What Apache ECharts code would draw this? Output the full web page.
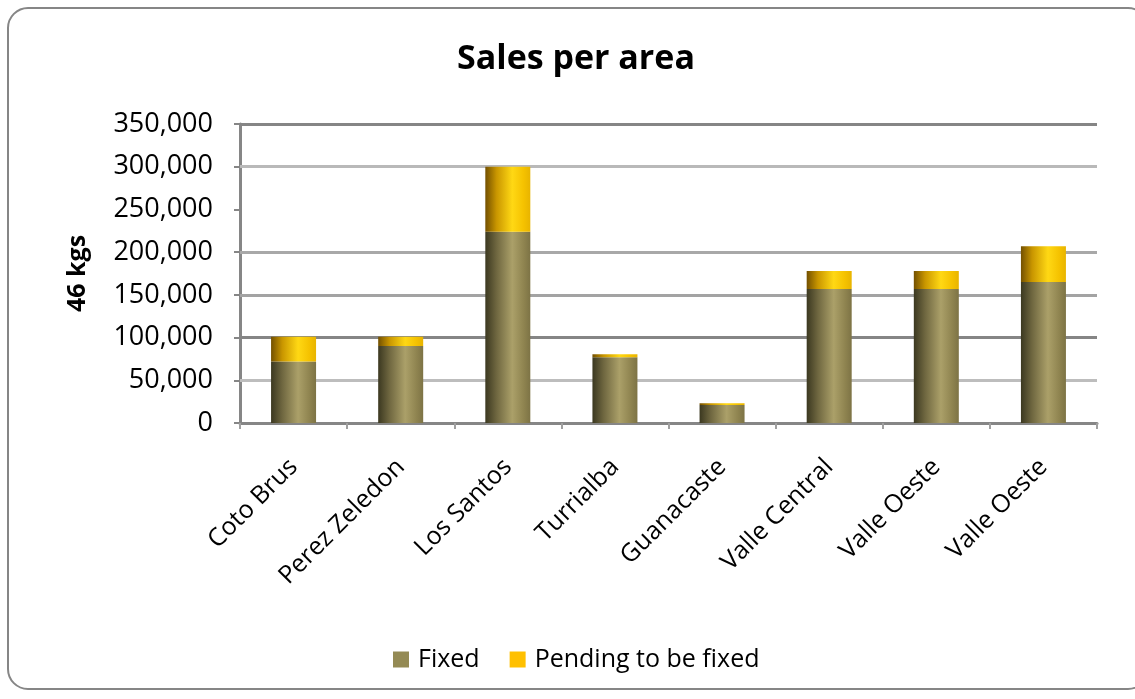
<!DOCTYPE html>
<html>
<head>
<meta charset="utf-8">
<script src="https://cdn.jsdelivr.net/npm/echarts@6/dist/echarts.min.js"></script>
<style>
html,body{margin:0;padding:0;background:#fff;}
#c{width:1135px;height:699px;}
</style>
</head>
<body>
<div id="c"></div>
<script>
var categories = ['Coto Brus', 'Perez Zeledon', 'Los Santos', 'Turrialba', 'Guanacaste', 'Valle Central', 'Valle Oeste', 'Valle Oeste'];
var fixedValues = [72000, 90000, 224000, 77000, 21000, 157000, 157000, 165000];
var pendingValues = [29000, 11000, 76000, 3500, 2000, 21000, 21000, 42000];
var yTicks = [0, 50000, 100000, 150000, 200000, 250000, 300000, 350000];
// gridlines drawn in the reference (the 250,000 line is absent there)
var gridValues = [50000, 100000, 150000, 200000, 300000, 350000];
var gridColors = ['#bdbdbd', '#858585', '#a3a3a3', '#a8a8a8', '#b9b9b9', '#858585'];

var FONT = '"Open Sans", "Liberation Sans", sans-serif';
var chart = echarts.init(document.getElementById('c'));

function grad(stops) {
  return new echarts.graphic.LinearGradient(0, 0, 1, 0, stops.map(function (s) { return { offset: s[0], color: s[1] }; }));
}

chart.setOption({
  backgroundColor: '#fff',
  animation: false,
  graphic: [{
    type: 'rect',
    shape: { x: 8, y: 8, width: 1140, height: 681, r: 20 },
    style: { fill: 'none', stroke: '#868686', lineWidth: 2 },
    silent: true
  }],
  title: {
    text: 'Sales per area',
    left: 452,
    top: 37,
    textStyle: { fontFamily: FONT, fontSize: 34, fontWeight: 'bold', color: '#000' }
  },
  legend: {
    bottom: 22,
    left: 388,
    itemWidth: 16,
    itemHeight: 16,
    itemGap: 30,
    icon: 'rect',
    textStyle: { fontFamily: FONT, fontSize: 25, color: '#000', padding: [0, 0, 0, 4] },
    data: [
      { name: 'Fixed', itemStyle: { color: '#948a54' } },
      { name: 'Pending to be fixed', itemStyle: { color: '#ffc000' } }
    ]
  },
  grid: { left: 240, right: 38, top: 124, bottom: 276 },
  xAxis: {
    type: 'category',
    data: categories,
    axisLine: { lineStyle: { color: '#868686', width: 3 } },
    axisTick: { show: true, length: 6, alignWithLabel: false, lineStyle: { color: '#a0a0a0', width: 2 } },
    axisLabel: { interval: 0, rotate: 45, margin: 40, fontFamily: FONT, fontSize: 25, color: '#000' }
  },
  yAxis: {
    type: 'value',
    min: yTicks[0],
    max: yTicks[yTicks.length - 1],
    interval: yTicks[1] - yTicks[0],
    name: '46 kgs',
    nameLocation: 'middle',
    nameRotate: 90,
    nameGap: 150,
    nameTextStyle: { fontFamily: FONT, fontSize: 25, fontWeight: 'bold', color: '#000' },
    axisLine: { show: true, lineStyle: { color: '#868686', width: 3 } },
    axisTick: { show: true, inside: false, length: 6, lineStyle: { color: '#868686', width: 2 } },
    axisLabel: {
      margin: 27,
      fontFamily: FONT, fontSize: 27, color: '#000',
      formatter: function (v) { return v.toLocaleString('en-US'); }
    },
    splitLine: { show: false }
  },
  series: [
    {
      name: 'grid',
      type: 'line',
      data: [],
      z: 1,
      markLine: {
        silent: true,
        symbol: 'none',
        z: 1,
        label: { show: false },
        data: gridValues.map(function (v, i) {
          return { yAxis: v, lineStyle: { color: gridColors[i], width: 3, type: 'solid' } };
        })
      }
    },
    {
      name: 'Fixed',
      type: 'bar',
      stack: 'total',
      barWidth: '42%',
      z: 3,
      data: fixedValues,
      itemStyle: {
        color: grad([[0, '#3b3820'], [0.25, '#6f6740'], [0.6, '#aba069'], [0.85, '#8f8450'], [1, '#7d7345']])
      }
    },
    {
      name: 'Pending to be fixed',
      type: 'bar',
      stack: 'total',
      barWidth: '42%',
      z: 3,
      data: pendingValues,
      itemStyle: {
        color: grad([[0, '#735000'], [0.25, '#c99600'], [0.6, '#ffd814'], [0.85, '#f5c200'], [1, '#e8b400']])
      }
    }
  ]
});
</script>
</body>
</html>
